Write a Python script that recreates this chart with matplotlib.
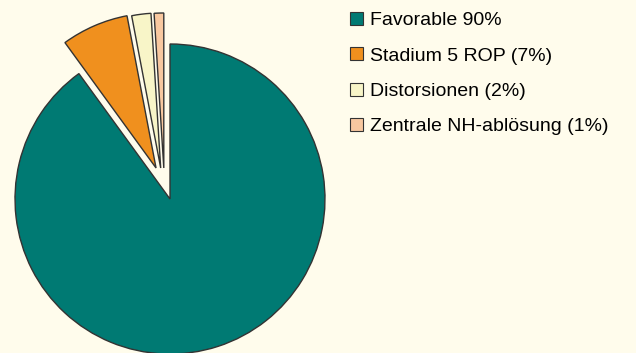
import matplotlib.pyplot as plt

# Daten
labels = ['Favorable 90%', 'Stadium 5 ROP (7%)', 'Distorsionen (2%)', 'Zentrale NH-ablösung (1%)']
values = [90, 7, 2, 1]
colors = ['#007a73', '#f0901e', '#f8f5c8', '#f8c8a0']
# Verschiebung der kleinen Segmente (in Radius-Einheiten)
offsets = [(0, 0), (-0.09, 0.2), (-0.06, 0.2), (-0.04, 0.2)]

bg = '#fffcec'
plt.rcParams['font.family'] = ['Liberation Sans', 'DejaVu Sans']

fig = plt.figure(figsize=(6.36, 3.53), dpi=100, facecolor=bg)
W, H = 636, 353
cx, cy, r = 170, 353 - 199, 155
half = r * 1.3
ax = fig.add_axes([(cx - half) / W, (cy - half) / H, 2 * half / W, 2 * half / H])
ax.set_facecolor(bg)

wedges, _ = ax.pie(values, colors=colors, startangle=90,
                   counterclock=False, radius=1,
                   wedgeprops=dict(edgecolor='#333333', linewidth=1.0))
for w, off in zip(wedges, offsets):
    w.set_center(off)
ax.set_xlim(-1.3, 1.3)
ax.set_ylim(-1.3, 1.3)
ax.set_aspect('equal')
ax.axis('off')

leg = fig.legend(wedges, labels, loc='upper left',
                 bbox_to_anchor=(346 / W, 1 - 8 / H), frameon=False,
                 borderaxespad=0, borderpad=0.2,
                 fontsize=14, handlelength=0.65, handleheight=0.65,
                 handletextpad=0.4, labelspacing=0.93)
for h in leg.legend_handles:
    h.set_linewidth(0.8)

fig.savefig('out.png', dpi=100, facecolor=bg)
